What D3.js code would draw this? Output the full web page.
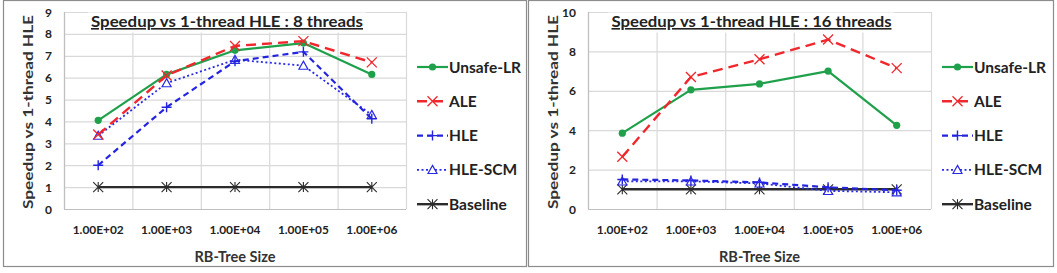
<!DOCTYPE html>
<html>
<head>
<meta charset="utf-8">
<script src="https://cdn.jsdelivr.net/npm/d3@7.9.0/dist/d3.min.js"></script>
<style>
  body { margin: 0; background: #fff; }
  svg { display: block; font-family: Lato, "Open Sans", sans-serif; }
</style>
</head>
<body>
<div id="chart"></div>
<script>
// categories shared by both panels
const sizes = ["1.00E+02", "1.00E+03", "1.00E+04", "1.00E+05", "1.00E+06"];
const seriesNames = ["Unsafe-LR", "ALE", "HLE", "HLE-SCM", "Baseline"];

// 8 threads
const unsafe8 = [4.05, 6.15, 7.25, 7.58, 6.15];
const ale8 = [3.4, 6.1, 7.45, 7.67, 6.7];
const hle8 = [2.0, 4.65, 6.75, 7.18, 4.12];
const scm8 = [3.35, 5.75, 6.82, 6.55, 4.3];
const base8 = [1, 1, 1, 1, 1];
const yTicks8 = [0, 1, 2, 3, 4, 5, 6, 7, 8, 9];

// 16 threads
const unsafe16 = [3.85, 6.05, 6.35, 7.0, 4.25];
const ale16 = [2.65, 6.7, 7.6, 8.6, 7.15];
const hle16 = [1.5, 1.45, 1.35, 1.1, 0.95];
const scm16 = [1.4, 1.4, 1.3, 0.92, 0.85];
const base16 = [1, 1, 1, 1, 1];
const yTicks16 = [0, 2, 4, 6, 8, 10];

const styles = {
    "Unsafe-LR": {color: "#1fa04a", dash: null, width: 2.2, marker: "circle"},
    "ALE": {color: "#f0282d", dash: "10,6", width: 2.4, marker: "x"},
    "HLE": {color: "#2424e0", dash: "6,4", width: 2.2, marker: "plus"},
    "HLE-SCM": {color: "#2a2ae6", dash: "2,2.5", width: 1.8, marker: "tri"},
    "Baseline": {color: "#2b2b2b", dash: null, width: 2.4, marker: "star"}
};

const svg = d3.select("#chart").append("svg")
    .attr("width", 1057)
    .attr("height", 273);

function marker(g, type, color, cx, cy) {
    if (type === "circle") {
        g.append("circle").attr("cx", cx).attr("cy", cy).attr("r", 3.6).attr("fill", color);
    } else if (type === "x") {
        const s = 5;
        g.append("path")
            .attr("d", `M${cx - s},${cy - s}L${cx + s},${cy + s}M${cx - s},${cy + s}L${cx + s},${cy - s}`)
            .attr("stroke", color).attr("stroke-width", 1.3).attr("fill", "none");
    } else if (type === "plus") {
        const s = 5;
        g.append("path")
            .attr("d", `M${cx - s},${cy}L${cx + s},${cy}M${cx},${cy - s}L${cx},${cy + s}`)
            .attr("stroke", color).attr("stroke-width", 1.4).attr("fill", "none");
    } else if (type === "tri") {
        const s = 4.5;
        g.append("path")
            .attr("d", `M${cx},${cy - s}L${cx + s},${cy + s * 0.8}L${cx - s},${cy + s * 0.8}Z`)
            .attr("stroke", color).attr("stroke-width", 1.2).attr("fill", "#fff");
    } else if (type === "star") {
        const s = 5;
        g.append("path")
            .attr("d", `M${cx - s},${cy - s}L${cx + s},${cy + s}M${cx - s},${cy + s}L${cx + s},${cy - s}M${cx},${cy - s}L${cx},${cy + s}`)
            .attr("stroke", color).attr("stroke-width", 1.1).attr("fill", "none");
    }
}

function drawPanel(opt) {
    const g = svg.append("g");

    // panel frame
    g.append("rect")
        .attr("x", opt.frame[0] + 0.5).attr("y", 0.5)
        .attr("width", opt.frame[1] - opt.frame[0]).attr("height", 266)
        .attr("fill", "#fff").attr("stroke", "#8c8c8c").attr("stroke-width", 1.2);

    const x = d3.scaleBand()
        .domain(sizes)
        .range([opt.left, opt.right]);

    const y = d3.scaleLinear()
        .domain([0, d3.max(opt.yTicks)])
        .range([209, 12]);

    // horizontal gridlines
    g.selectAll(".hgrid").data(opt.yTicks).enter().append("line")
        .attr("x1", opt.left).attr("x2", opt.right)
        .attr("y1", d => y(d) + 0.5).attr("y2", d => y(d) + 0.5)
        .attr("stroke", "#d9d9d9").attr("stroke-width", 1.2);

    // vertical gridlines at category boundaries
    const bounds = sizes.map(s => x(s)).concat([opt.right]);
    g.selectAll(".vgrid").data(bounds).enter().append("line")
        .attr("x1", d => d + 0.5).attr("x2", d => d + 0.5)
        .attr("y1", y.range()[1]).attr("y2", y(0))
        .attr("stroke", "#d9d9d9").attr("stroke-width", 1.2);

    // axis lines
    g.append("line")
        .attr("x1", opt.left + 0.5).attr("x2", opt.left + 0.5)
        .attr("y1", y.range()[1]).attr("y2", y(0))
        .attr("stroke", "#bfbfbf").attr("stroke-width", 1.2);
    g.append("line")
        .attr("x1", opt.left).attr("x2", opt.right)
        .attr("y1", y(0) + 0.5).attr("y2", y(0) + 0.5)
        .attr("stroke", "#bfbfbf").attr("stroke-width", 1.2);

    // y tick labels
    g.selectAll(".ytick").data(opt.yTicks).enter().append("text")
        .attr("x", opt.left - 12)
        .attr("y", d => y(d) + 4.5)
        .attr("text-anchor", "end")
        .style("font-size", "12px")
        .style("font-weight", "bold")
        .attr("fill", "#222")
        .text(d => d);

    // x tick labels
    g.selectAll(".xtick").data(sizes).enter().append("text")
        .attr("x", d => x(d) + x.bandwidth() / 2)
        .attr("y", 234)
        .attr("text-anchor", "middle")
        .attr("textLength", 51)
        .attr("lengthAdjust", "spacingAndGlyphs")
        .style("font-size", "11.5px")
        .style("font-weight", "bold")
        .attr("fill", "#222")
        .text(d => d);

    // axis titles
    g.append("text")
        .attr("x", (opt.left + opt.right) / 2)
        .attr("y", 262)
        .attr("text-anchor", "middle")
        .attr("textLength", 81)
        .attr("lengthAdjust", "spacingAndGlyphs")
        .style("font-size", "14.5px")
        .style("font-weight", "bold")
        .attr("fill", "#333")
        .text("RB-Tree Size");

    g.append("text")
        .attr("transform", `translate(${opt.frame[0] + 30},${112}) rotate(-90)`)
        .attr("text-anchor", "middle")
        .attr("textLength", 194)
        .attr("lengthAdjust", "spacingAndGlyphs")
        .style("font-size", "14px")
        .style("font-weight", "bold")
        .attr("fill", "#333")
        .text("Speedup vs 1-thread HLE");

    // series
    const line = d3.line()
        .x((d, i) => x(sizes[i]) + x.bandwidth() / 2)
        .y(d => y(d));

    const order = ["Baseline", "HLE-SCM", "HLE", "Unsafe-LR", "ALE"];
    order.forEach(name => {
        const st = styles[name];
        const vals = opt.data[name];
        g.append("path")
            .attr("d", line(vals))
            .attr("fill", "none")
            .attr("stroke", st.color)
            .attr("stroke-width", st.width)
            .attr("stroke-dasharray", st.dash)
            .attr("stroke-linejoin", "round");
        vals.forEach((v, i) => marker(g, st.marker, st.color, x(sizes[i]) + x.bandwidth() / 2, y(v)));
    });

    // title with white box
    const tx = (opt.left + opt.right) / 2 - 8;
    g.append("rect")
        .attr("x", tx - opt.titleW / 2 - 3).attr("y", 12.5)
        .attr("width", opt.titleW + 6).attr("height", 20)
        .attr("fill", "#fff");
    g.append("text")
        .attr("x", tx)
        .attr("y", 27)
        .attr("text-anchor", "middle")
        .attr("textLength", opt.titleW)
        .attr("lengthAdjust", "spacingAndGlyphs")
        .style("font-size", "16px")
        .style("font-weight", "bold")
        .style("text-decoration", "underline")
        .attr("fill", "#222")
        .text(opt.title);

    // legend
    const leg = g.selectAll(".leg").data(seriesNames).enter().append("g")
        .attr("transform", (d, i) => `translate(${opt.legendX},${67 + i * 34.3})`);
    leg.each(function (name) {
        const st = styles[name];
        const lg = d3.select(this);
        lg.append("line")
            .attr("x1", 0).attr("x2", 31).attr("y1", 0).attr("y2", 0)
            .attr("stroke", st.color)
            .attr("stroke-width", st.width)
            .attr("stroke-dasharray", st.dash);
        marker(lg, st.marker, st.color, 15.5, 0);
        lg.append("text")
            .attr("x", 32).attr("y", 5.5)
            .style("font-size", "15.5px")
            .style("font-weight", "bold")
            .attr("fill", "#222")
            .text(name);
    });
}

drawPanel({
    frame: [3, 526],
    left: 64, right: 406,
    yTicks: yTicks8,
    title: "Speedup vs 1-thread HLE : 8 threads",
    titleW: 272,
    legendX: 417,
    data: {"Unsafe-LR": unsafe8, "ALE": ale8, "HLE": hle8, "HLE-SCM": scm8, "Baseline": base8}
});

drawPanel({
    frame: [528, 1053],
    left: 588, right: 931,
    yTicks: yTicks16,
    title: "Speedup vs 1-thread HLE : 16 threads",
    titleW: 280,
    legendX: 942,
    data: {"Unsafe-LR": unsafe16, "ALE": ale16, "HLE": hle16, "HLE-SCM": scm16, "Baseline": base16}
});
</script>
</body>
</html>
